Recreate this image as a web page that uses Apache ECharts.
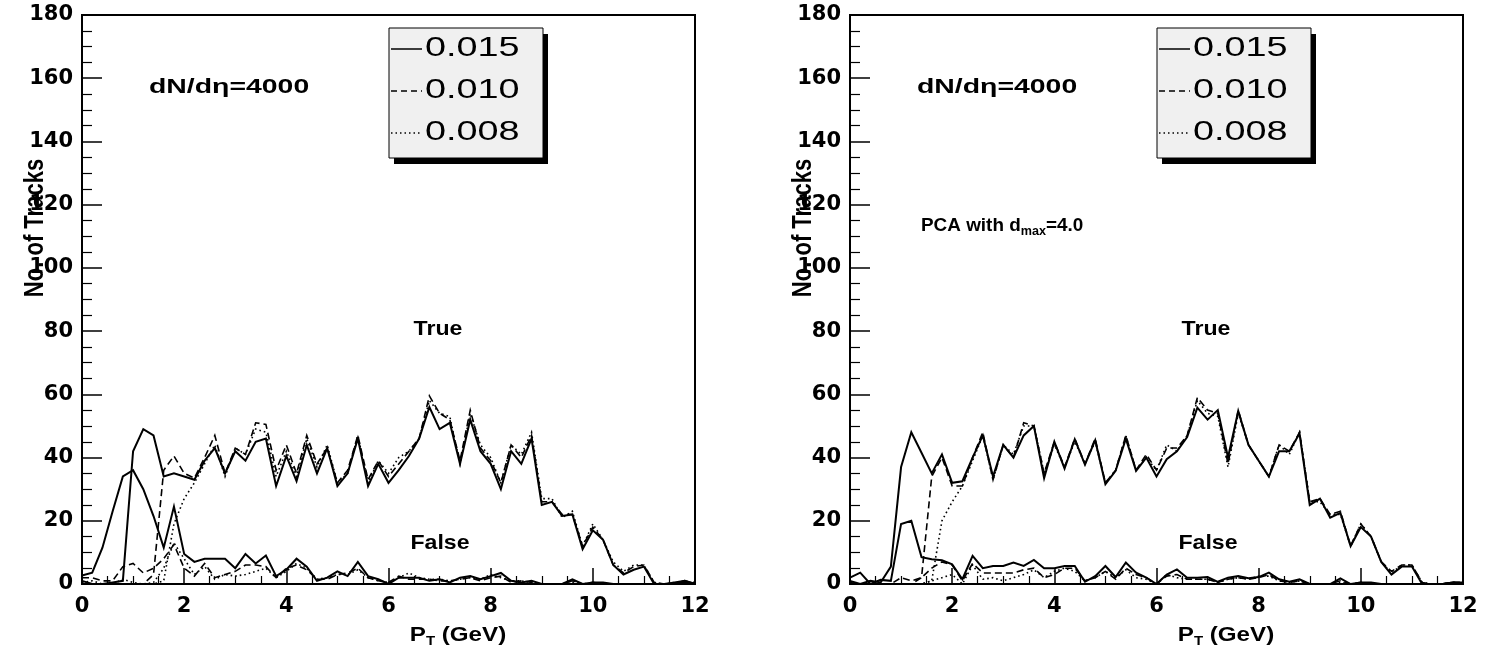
<!DOCTYPE html>
<html>
<head>
<meta charset="utf-8">
<script src="https://cdn.jsdelivr.net/npm/echarts@6/dist/echarts.min.js"></script>
<style>html,body{margin:0;padding:0;background:#fff}#c{width:1509px;height:647px}</style>
</head>
<body>
<div id="c"></div>
<script>
// pT bin positions (GeV)
const PT = [0,0.2,0.4,0.6,0.8, 1,1.2,1.4,1.6,1.8, 2,2.2,2.4,2.6,2.8, 3,3.2,3.4,3.6,3.8,
  4,4.2,4.4,4.6,4.8, 5,5.2,5.4,5.6,5.8, 6,6.2,6.4,6.6,6.8, 7,7.2,7.4,7.6,7.8,
  8,8.2,8.4,8.6,8.8, 9,9.2,9.4,9.6,9.8, 10,10.2,10.4,10.6,10.8, 11,11.2,11.4,11.6,11.8, 12];
const X_TICKS = [0,2,4,6,8,10,12];
const Y_TICKS = [0,20,40,60,80,100,120,140,160,180];
const CUTS = ['0.015','0.010','0.008'];

// Left panel: true tracks
const L_TRUE_015 = [1,0,0,0.5,1, 42,49,47,34,35, 34,33,39,43,35, 42,39,45,46,31,
  40.5,32.5,44,35,43, 31,35,46,31,38, 32,36,40.5,46,56, 49,51,38,52,42,
  38,30,42,38,46, 25,26,21.5,22,11, 17,14,6,3,4.5, 5.5,0,0,0,1, 0];
const L_TRUE_010 = [0,0,0,0,0, 0,0,3,36,40.5, 35,33.5,40,47,35, 43,41,51,50.5,36,
  44,35,47,38,43, 32,36,47,33,39, 34,38,42,46,59.5, 54,52,39,55,43,
  39,32,44,40,47, 26,26,22,22,12, 18,14,6,3.5,5.5, 6,0.5,0,0,0.5, 0.5];
const L_TRUE_008 = [0,0,0,0,0, 0,0,0,1,19, 27,32,38,44,34, 43,41,49,48,34,
  42,34,46,37,44, 32,35,47,32,39, 35,40,42,46,58, 54,53,38,54,44,
  40,32,44,41,48, 27,27,21,23,12, 19,14,7,4,6, 6,0.5,0,0.5,0.5, 0];
// Left panel: false tracks
const L_FALSE_015 = [2.7,3.6,11.5,23,34, 36,30,21.5,11.5,24.5, 9.5,7,8,8,8, 5,9.5,6.5,9,2.5,
  4.5,8,5.5,1,2, 4,2.5,7,2.5,1.5, 0,2,2,2,1, 1.5,0.5,2,2.5,1.5,
  2.5,3.5,1,0.5,1, 0,0,0,1.5,0, 0.5,0.5,0,0,0, 0,0,0,0.5,1, 0];
const L_FALSE_010 = [2,2,1,1,5.5, 6.5,3.5,5,8,12.5, 5,2.5,6.5,2,3, 4,6,6,5.5,2,
  5,6,4.5,1.5,1.5, 3,3.5,5,2,1, 0.5,2.5,1.5,1.5,1.5, 1,1,1.5,2,1,
  2,2.5,0.5,1,0.5, 0,0,0,1,0, 0.5,0,0,0,0, 0,0,0,0,0.5, 0];
const L_FALSE_008 = [0.5,1,0,0,1.5, 0.5,0,0.5,5,13, 8,3,5.5,1.5,3, 2.5,3,4,5,2,
  4,6.5,5,1.5,2, 3,3,4.5,2,1, 0.5,2,3.5,2,1.5, 1.5,1,1.5,2,1.5,
  3,2,1,1,0.5, 0,0,0,0.5,0, 0,0,0,0,0, 0,0,0,0,0.5, 0];

// Right panel (PCA with d_max=4.0): true tracks
const R_TRUE_015 = [1,0,1,0.5,5.5, 37,48,41.5,35,41, 32,32.5,40,47,34, 44,40,47,50,33.5,
  45,36.5,45.8,37.8,45.5, 31.6,35.8,46,35.8,40, 34,39.5,42,46.5,55.8, 52,55,40,54.7,44,
  39,34,42,42,47.6, 25,27,21,22.5,12, 18,15,7,3,5.5, 5.5,0,0,0,0.5, 0.5];
const R_TRUE_010 = [0,0,0,0,0, 0,0,2,34,40, 31,31,40,48,33, 44,40,51,50,35,
  45,37,46,38,46, 32,36,47,36,41, 36,43,43,47,59, 55,54,38,55,44,
  39,34,44,42,48, 26,27,22,23,12, 19,15,7,4,6, 6,0.5,0,0,0.5, 0.5];
const R_TRUE_008 = [0,0,0,0,0, 0,0,0,1,20, 26,31,39,47,33, 44,41,50,50,35,
  44,37,45,38,45, 32,36,47,36,40, 36,44,42,47,58, 54,53,37,54,44,
  39,34,44,41,48, 26,26,22,22,12, 19,15,7,3.5,6, 6,0.5,0,0,0.5, 0];
// Right panel: false tracks
const R_FALSE_015 = [2,3.6,0,1.3,1, 19,20,8.5,7.8,7.5, 6.2,1.5,8.9,5,5.7, 5.7,6.8,5.7,7.6,5,
  5,5.7,5.7,0.7,2.5, 5.7,2.2,6.8,3.6,2, 0,3,4.6,2,2, 2.2,0.7,2,2.5,1.8,
  2.2,3.6,1.5,0.7,1.5, 0,0,0,1.8,0, 0.5,0.5,0,0,0, 0,0,0,0,0.5, 0];
const R_FALSE_010 = [0.5,0,0,0,0, 2,1,2,5,7, 6,1,6.5,3.5,3.5, 3.5,3.5,4.5,5,2,
  3,5,5,1,2, 4,1.5,5,3,2, 0,2.5,3,1.5,1.5, 1.5,0.5,1.5,2,1.5,
  2,3,1,0.5,1, 0,0,0,1,0, 0.5,0,0,0,0, 0,0,0,0,0.5, 0];
const R_FALSE_008 = [0,0,0,0,0, 0,0,0,1,2, 3,0,6,1.5,2, 1,2,3,4.5,2,
  4,5,4,1,2, 4,2,4.5,2,1.5, 0,3,2,1.5,1.5, 1.5,0.5,1.5,2,1.5,
  2.5,2.5,1,0.5,1, 0,0,0,0.5,0, 0,0,0,0,0, 0,0,0,0,0.5, 0];

const STYLES = [
  {type:'solid', width:2},
  {type:[7,4], width:1.6},
  {type:[1.6,3], width:1.6}
];
const TICK_FONT = 'DejaVu Sans';
const TXT_FONT = '"Liberation Sans", Arial, Helvetica, sans-serif';

function pairs(vals){ return PT.map((x,i)=>[x, vals[i]]); }

function mkSeries(idx, sets){
  const out = [];
  sets.forEach((vals,k)=>{
    out.push({
      type:'line', name: CUTS[k % 3], xAxisIndex: idx, yAxisIndex: idx,
      data: pairs(vals), symbol:'none', silent:true, animation:false,
      lineStyle:{color:'#000', width: STYLES[k%3].width, type: STYLES[k%3].type, cap:'butt', join:'miter'},
      z: 3 - (k%3)
    });
  });
  return out;
}

function xAxis(idx){
  return {
    gridIndex: idx, type:'value', min:0, max:12, interval:2,
    axisLine:{show:true, onZero:false, lineStyle:{color:'#000', width:2}},
    axisTick:{show:true, inside:true, length:16, lineStyle:{color:'#000', width:1.5}},
    minorTick:{show:true, splitNumber:4, length:8, lineStyle:{color:'#000', width:1.2}},
    splitLine:{show:false},
    axisLabel:{show:true, margin:12, color:'#000', fontFamily:TICK_FONT, fontWeight:'bold', fontSize:21,
      formatter: v => (X_TICKS.indexOf(v) >= 0 ? String(v) : '')}
  };
}
function yAxis(idx){
  return {
    gridIndex: idx, type:'value', min:0, max:180, interval:20,
    axisLine:{show:true, onZero:false, lineStyle:{color:'#000', width:2}},
    axisTick:{show:true, inside:true, length:20, lineStyle:{color:'#000', width:1.5}},
    minorTick:{show:true, splitNumber:4, length:10, lineStyle:{color:'#000', width:1.2}},
    splitLine:{show:false},
    axisLabel:{show:true, margin:9, color:'#000', fontFamily:TICK_FONT, fontWeight:'bold', fontSize:21,
      formatter: v => (Y_TICKS.indexOf(v) >= 0 ? String(v) : '')}
  };
}

function txt(x, y, text, opts){
  return Object.assign({
    type:'text', x:x, y:y, silent:true, z:20,
    style:Object.assign({text:text, fill:'#000', font:'bold 20px ' + TXT_FONT,
      textAlign:'left', textVerticalAlign:'middle'}, opts.style || {})
  }, opts.el || {});
}

function panelGraphics(dx, withPCA){
  const g = [];
  // legend box with shadow
  g.push({type:'rect', silent:true, z:10, shape:{x:394+dx, y:34, width:154, height:130}, style:{fill:'#000'}});
  g.push({type:'rect', silent:true, z:11, shape:{x:389+dx, y:28, width:154, height:130}, style:{fill:'#f0f0f0', stroke:'#000', lineWidth:1}});
  const rows = [49, 91, 133];
  rows.forEach((ry,k)=>{
    g.push({type:'line', silent:true, z:12, shape:{x1:391+dx, y1:ry, x2:422+dx, y2:ry},
      style:{stroke:'#000', lineWidth:1.5, lineDash: k===0 ? null : (k===1 ? [6,4] : [1.5,3])}});
    g.push(txt(425+dx, ry, CUTS[k], {style:{font:'27px ' + TXT_FONT}, el:{scaleX:1.4, z:13}}));
  });
  // annotations
  g.push(txt(149+dx, 87, 'dN/d\u03b7=4000', {style:{font:'bold 20px ' + TXT_FONT}, el:{scaleX:1.42}}));
  g.push(txt(438+dx, 329, 'True', {style:{textAlign:'center', font:'bold 21px ' + TXT_FONT}, el:{scaleX:1.1}}));
  g.push(txt(440+dx, 543, 'False', {style:{textAlign:'center', font:'bold 21px ' + TXT_FONT}, el:{scaleX:1.1}}));
  if (withPCA) {
    g.push({type:'text', x:921+dx-768, y:226, silent:true, z:20, scaleX:1.05,
      style:{text:'{a|PCA with d}{s|max}{a|=4.0}', textAlign:'left', textVerticalAlign:'middle',
        rich:{a:{font:'bold 18px ' + TXT_FONT, fill:'#000', lineHeight:24, verticalAlign:'middle'},
              s:{font:'bold 12px ' + TXT_FONT, fill:'#000', lineHeight:12, verticalAlign:'bottom'}}}});
  }
  // x axis title
  g.push({type:'text', x:458+dx, y:635, silent:true, z:20, scaleX:1.15,
    style:{text:'{a|P}{s|T}{a| (GeV)}', textAlign:'center', textVerticalAlign:'middle',
      rich:{a:{font:'bold 21px ' + TXT_FONT, fill:'#000', lineHeight:26, verticalAlign:'middle'},
            s:{font:'bold 13px ' + TXT_FONT, fill:'#000', lineHeight:13, verticalAlign:'bottom'}}}});
  // y axis title
  g.push({type:'text', x:35+dx, y:228, rotation:Math.PI/2, silent:true, z:20, scaleY:1.3, scaleX:1.05,
    style:{text:'No. of Tracks', textAlign:'center', textVerticalAlign:'middle', fill:'#000',
      font:'bold 21px ' + TXT_FONT}});
  return g;
}

const chart = echarts.init(document.getElementById('c'), null, {renderer:'canvas'});
chart.setOption({
  backgroundColor:'#fff',
  animation:false,
  grid:[
    {left:82, top:15, width:613, height:569, show:true, borderColor:'#000', borderWidth:2, backgroundColor:'transparent'},
    {left:850, top:15, width:613, height:569, show:true, borderColor:'#000', borderWidth:2, backgroundColor:'transparent'}
  ],
  xAxis:[xAxis(0), xAxis(1)],
  yAxis:[yAxis(0), yAxis(1)],
  series: [].concat(
    mkSeries(0, [L_TRUE_015, L_TRUE_010, L_TRUE_008, L_FALSE_015, L_FALSE_010, L_FALSE_008]),
    mkSeries(1, [R_TRUE_015, R_TRUE_010, R_TRUE_008, R_FALSE_015, R_FALSE_010, R_FALSE_008])
  ),
  graphic: [].concat(panelGraphics(0, false), panelGraphics(768, true))
});
</script>
</body>
</html>
